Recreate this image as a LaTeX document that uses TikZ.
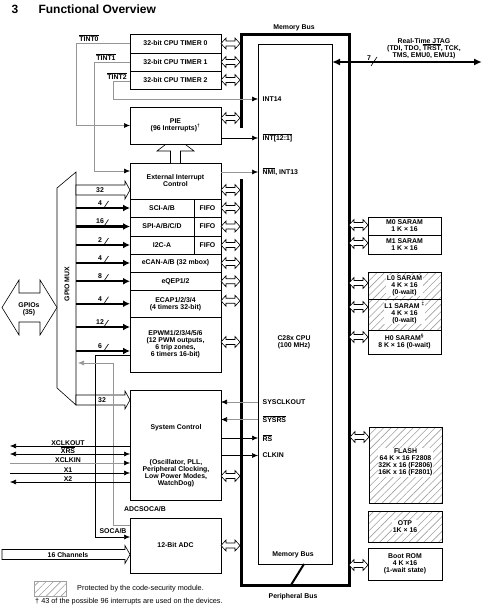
\documentclass[tikz,border=0pt]{standalone}
\usepackage{fontspec}
\setmainfont{Liberation Sans}
\usetikzlibrary{arrows.meta, patterns.meta, positioning}
\definecolor{sigrey}{RGB}{150,150,150}
\definecolor{hatchgrey}{RGB}{160,160,160}

\begin{document}
\begin{tikzpicture}[x=1pt, y=-1pt,
    >={Latex[length=6pt,width=5pt]},   % Pfeilspitzen
    font=\fontsize{6.9}{7}\selectfont\bfseries,
    blk/.style={draw, line width=0.6pt, inner sep=0pt, outer sep=0pt, align=center, minimum width=91},
    hatched/.style={pattern={Lines[angle=45,distance=5.2pt,line width=0.6pt]}, pattern color=hatchgrey},
    txt/.style={inner sep=0.5pt, align=center},
    sig/.style={line width=0.6pt},
    gline/.style={sig, draw=sigrey},
    garrow/.style={gline, -{Latex[length=6pt,width=5pt,black]}},
    pbus/.style={line width=2.4pt, -{Latex[length=7pt,width=7pt]}},
    mbus/.style={line width=3pt},
    dbl/.pic={\draw[sig, fill=white] (0,0) -- (5,-5.5) -- (5,-2.5) -- (14,-2.5) -- (14,-5.5) -- (19,0) -- (14,5.5) -- (14,2.5) -- (5,2.5) -- (5,5.5) -- cycle;},
    pics/fat/.style={code={\draw[sig, fill=white] (0,-5) -- (#1-5,-5) -- (#1-5,-9) -- (#1,0) -- (#1-5,9) -- (#1-5,5) -- (0,5) -- cycle;}}]
  \useasboundingbox (0,0) rectangle (490,613);
  % Ueberschrift
  \node[anchor=base west, font=\fontsize{12}{14}\selectfont\bfseries] (secno) at (8,13) {3};
  \node[anchor=base west, font=\fontsize{12}{14}\selectfont\bfseries] (title) at (35,13) {Functional Overview};

  % Timer
  \node[blk, minimum height=19] (t0) at (175.5,43.5) {32-bit CPU TIMER 0};
  \node[blk, minimum height=18, below=0pt of t0] (t1) {32-bit CPU TIMER 1};
  \node[blk, minimum height=18, below=0pt of t1] (t2) {32-bit CPU TIMER 2};

  % Interrupts und Peripherie
  \node[blk, minimum height=36] (eic) at (175.5,181) {External Interrupt\\Control};
  \node[blk, minimum width=64, minimum height=18, anchor=north west] (sci) at (eic.south west) {SCI-A/B};
  \node[blk, minimum width=27, minimum height=18, right=0pt of sci] (scififo) {FIFO};
  \node[blk, minimum width=64, minimum height=19, anchor=north west] (spi) at (sci.south west) {SPI-A/B/C/D};
  \node[blk, minimum width=27, minimum height=19, right=0pt of spi] (spififo) {FIFO};
  \node[blk, minimum width=64, minimum height=18, anchor=north west] (i2c) at (spi.south west) {I2C-A};
  \node[blk, minimum width=27, minimum height=18, right=0pt of i2c] (i2cfifo) {FIFO};
  \node[blk, minimum height=18, anchor=north west] (ecan) at (i2c.south west) {eCAN-A/B (32 mbox)};
  \node[blk, minimum height=18.5, below=0pt of ecan] (eqep) {eQEP1/2};
  \node[blk, minimum height=26.5, below=0pt of eqep] (ecap) {ECAP1/2/3/4\\(4 timers 32-bit)};
  \node[blk, minimum height=55, below=0pt of ecap] (epwm) {EPWM1/2/3/4/5/6\\(12 PWM outputs,\\6 trip zones,\\6 timers 16-bit)};
  \draw[sig, fill=white] ([xshift=-5pt]eic.north) -- ++(0,-12) -- ++(-13.5,0) -- ++(18.5,-14) -- ++(18.5,14) -- ++(-13.5,0) -- ++(0,12);
  \node[blk, fill=white, minimum height=37] (pie) at (175.5,125.5) {PIE\\(96 Interrupts)\textsuperscript{†}};

  % Systemsteuerung, ADC
  \node[blk, minimum height=110] (sysctl) at (175.5,445) {};
  \node[txt] (sysname) at (176,428) {System Control};
  \node[txt] (sysfunc) at (176,473) {(Oscillator, PLL,\\Peripheral Clocking,\\Low Power Modes,\\WatchDog)};
  \node[blk, minimum height=55] (adc) at (175.5,545.5) {12-Bit ADC};

  % CPU und Busse
  \node[blk, minimum width=74, minimum height=520] (cpu) at (295,304) {};
  \node[txt] (cpuname) at (294,342.5) {C28x CPU\\(100 MHz)};
  \node[txt] (mbbot) at (293,555) {Memory Bus};
  \node[txt] (mbtop) at (294,28) {Memory Bus};
  \node[txt] (perbus) at (293,597) {Peripheral Bus};
  \draw[mbus] (241,128) |- (349,34) |- (241,585) -- (241,179);
  \draw[line width=2pt] ([xshift=9pt]cpu.south) -- (291,585);

  % Speicher
  \node[blk, minimum width=73, minimum height=18] (m0) at (404.5,226) {M0 SARAM\\1 K × 16};
  \node[blk, minimum width=73, minimum height=19, below=0pt of m0] (m1) {M1 SARAM\\1 K × 16};
  \node[blk, hatched, minimum width=73, minimum height=27] (l0) at (404.5,285.5) {};
  \node[blk, hatched, minimum width=73, minimum height=31, below=0pt of l0] (l1) {};
  \node[blk, minimum width=73, minimum height=24, below=0pt of l1] (h0) {H0 SARAM\textsuperscript{§}\\8 K × 16 (0-wait)};
  \node[blk, hatched, minimum width=73, minimum height=76] (flash) at (405.5,465) {};
  \node[blk, hatched, minimum width=74, minimum height=31] (otp) at (405,526.5) {};
  \node[blk, minimum width=74, minimum height=32] (boot) at (405,564) {Boot ROM\\4 K ×16\\(1-wait state)};
  \node[txt, fill=white] (l0txt) at (l0) {L0 SARAM\\4 K × 16\\(0-wait)};
  \node[txt, fill=white] (l1txt) at ([yshift=2pt]l1.center) {L1 SARAM \textsuperscript{‡}\\4 K × 16\\(0-wait)};
  \node[txt, fill=white] (flashtxt) at ([yshift=2.5pt]flash.center) {FLASH\\64 K × 16 F2808\\32K x 16 (F2806)\\16K x 16 (F2801)};
  \node[txt, fill=white] (otptxt) at (otp) {OTP\\1K × 16};

  % Busanschluesse
  \foreach \n/\s in {t0/0, t1/0, t2/0, pie/7.5, eic/-9, scififo/0, spififo/0, i2cfifo/0, ecan/0, eqep/0, ecap/3, epwm/2.5, sysctl/-31, adc/0}
    \pic at ([yshift=\s pt]\n.east) {dbl};
  \foreach \n/\s in {m0/1, m1/1.5, l0/2.5, l1/7.5, h0/5, flash/28, boot/-1}
    \pic at ([xshift=-19pt, yshift=\s pt]\n.west) {dbl};

  % Interrupts
  \node[txt] (tint0) at (89,38) {$\overline{\hbox{TINT0}}$};
  \node[txt] (tint1) at (106,57) {$\overline{\hbox{TINT1}}$};
  \node[txt] (tint2) at (117,76) {$\overline{\hbox{TINT2}}$};
  \node[txt, anchor=west] (int14) at (262,99) {INT14};
  \node[txt, anchor=west] (int12) at (262,138) {$\overline{\hbox{INT[12:1]}}$};
  \node[txt, anchor=west] (nmi) at (262,172) {$\overline{\hbox{NMI}}$, INT13};
  \draw[garrow] (t0.west) -- ++(-54,0) |- (pie.west);
  \draw[garrow] (t1.west) -- ++(-36,0) |- ([yshift=10pt]eic.west);
  \draw[garrow] ([yshift=-1pt]t2.west) -- ++(-17,0) |- (cpu.west |- int14);
  \draw[sig, ->] (pie.east |- int12) -- (cpu.west |- int12);
  \draw[garrow] (eic.east |- nmi) -- (cpu.west |- nmi);

  % GPIO MUX
  \draw[sig, fill=white] (76,172) -- (57,188) -- (57,388) -- (76,405) -- cycle;
  \node[txt, rotate=90] (muxname) at (67,284) {GPIO MUX};
  \foreach \n/\w/\s [count=\i] in {sci/4/0, spi/16/0, i2c/2/0, ecan/4/0, eqep/8/0, ecap/4/0, epwm/12/17.5, epwm/6/-6.5} {
    \draw[pbus] ([xshift=-54pt, yshift=\s pt]\n.west) -- ([yshift=\s pt]\n.west);
    \node[txt] (w\i) at ([xshift=-30pt, yshift=\s pt + 5pt]\n.west) {\w};
    \draw[sig] ([xshift=-25.5pt, yshift=\s pt + 1pt]\n.west) -- ++(4,-6);
  }
  \pic at ([xshift=-54pt, yshift=-9pt]eic.west) {fat=54};
  \node[txt] (e32) at ([xshift=-30pt, yshift=-9pt]eic.west) {32};
  \pic at ([xshift=-54pt, yshift=45pt]sysctl.west) {fat=54};
  \node[txt] (s32) at ([xshift=-28pt, yshift=45pt]sysctl.west) {32};
  \draw[sig, fill=white] (2,307.5) -- ++(17,-27.5) -- ++(0,13) -- ++(21,0) -- ++(0,-13) -- ++(17,27.5) -- ++(-17,27.5) -- ++(0,-13) -- ++(-21,0) -- ++(0,13) -- cycle;
  \node[txt] (gpio) at (29,309) {GPIOs\\(35)};

  % ADC Trigger
  \draw[sig, ->] ([yshift=-10.5pt]epwm.west) -- ++(-35,0) |- ([yshift=8.5pt]adc.west);
  \draw[gline, ->] ([yshift=20.5pt]adc.west) -- ++(-17,0) -- ++(0,-162) -- ++(-35,0);
  \node[txt] (soca) at (113,531) {SOCA/B};
  \node[txt] (adcsoca) at (145,509) {ADCSOCA/B};
  \pic at ([xshift=-128pt, yshift=-9pt]adc.west) {fat=128};
  \node[txt] (chan) at ([xshift=-62pt, yshift=-10pt]adc.west) {16 Channels};

  % Takt und Reset
  \coordinate (xleft) at (10,0);
  \node[txt, anchor=south] (xclkout) at (68,446) {XCLKOUT};
  \node[txt, anchor=south] (xrs) at (68,454) {$\overline{\hbox{XRS}}$};
  \node[txt, anchor=south] (xclkin) at (68,463) {XCLKIN};
  \node[txt, anchor=south] (xone) at (68,473) {X1};
  \node[txt, anchor=south] (xtwo) at (68,482) {X2};
  \draw[sig, <-] (xleft |- xclkout.south) -- (sysctl.west |- xclkout.south);
  \draw[sig, <->] (xleft |- xrs.south) -- (sysctl.west |- xrs.south);
  \draw[garrow] (xleft |- xclkin.south) -- (sysctl.west |- xclkin.south);
  \draw[sig, ->] (xleft |- xone.south) -- (sysctl.west |- xone.south);
  \draw[sig, <-] (xleft |- xtwo.south) -- (sysctl.west |- xtwo.south);
  \node[txt, anchor=west] (sysclk) at (262,402) {SYSCLKOUT};
  \node[txt, anchor=west] (sysrs) at (262,419.5) {$\overline{\hbox{SYSRS}}$};
  \node[txt, anchor=west] (rs) at (262,438) {$\overline{\hbox{RS}}$};
  \node[txt, anchor=west] (clkin) at (262,455.5) {CLKIN};
  \draw[garrow] (cpu.west |- sysclk) -- (sysctl.east |- sysclk);
  \draw[garrow] (cpu.west |- sysrs) -- (sysctl.east |- sysrs);
  \draw[sig, ->] (sysctl.east |- rs) -- (cpu.west |- rs);
  \draw[sig, ->] (sysctl.east |- clkin) -- (cpu.west |- clkin);

  % JTAG
  \coordinate (jtagend) at (482,62);
  \draw[line width=2.4pt, {Latex[length=8pt,width=7pt]}-{Latex[length=8pt,width=7pt]}] (cpu.east |- jtagend) -- (jtagend);
  \node[txt] (jtag) at (424,49) {Real-Time JTAG\\(TDI, TDO, $\overline{\hbox{TRST}}$, TCK,\\TMS, EMU0, EMU1)};
  \node[txt] (jtagw) at (369,58) {7};
  \draw[sig] (371,66) -- (377,57);

  % Legende
  \node[draw=hatchgrey, hatched, minimum width=32, minimum height=15, inner sep=0pt] (legend) at (50,588.5) {};
  \node[anchor=west, inner sep=0pt, font=\fontsize{7.3}{8}\selectfont] (legtxt) at (77,589) {Protected by the code-security module.};
  \node[anchor=west, inner sep=0pt, font=\fontsize{7.3}{8}\selectfont] (fnote) at (35,602) {† 43 of the possible 96 interrupts are used on the devices.};
\end{tikzpicture}
\end{document}
